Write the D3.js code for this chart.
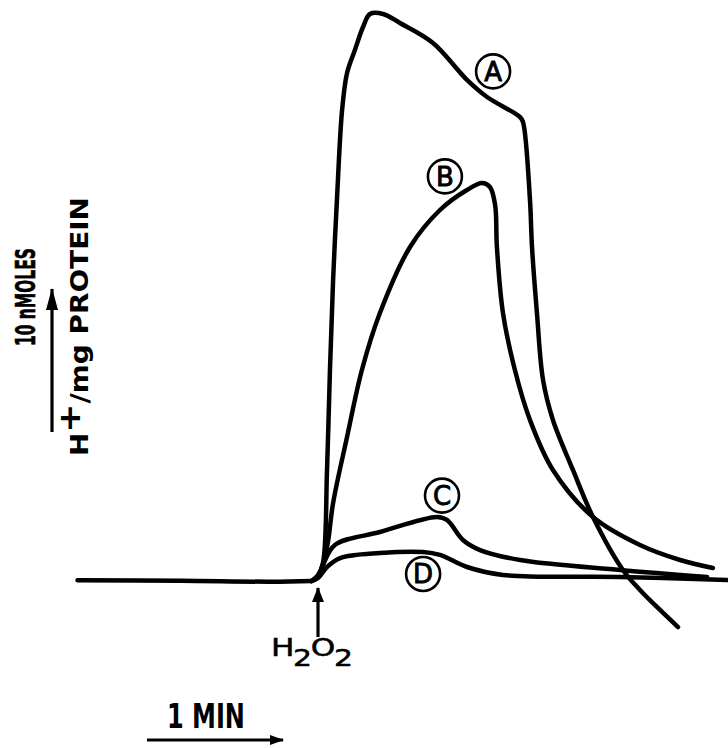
<html>
<head>
    <title>H+ extrusion after H2O2</title>
    <script src="https://d3js.org/d3.v7.min.js"></script>
    <style>
        body { margin: 0; background: #fff; }
    </style>
</head>
<body>
<script>
    // time in s after H2O2 addition, signal in nmoles H+/mg protein
    var baseT = [-106, -60, -20, -2];
    var baseV = [0.05, 0.02, -0.05, 0];

    var tA = [-2, 0.9, 3.1, 4.9, 6.2, 7.6, 9.3, 11.6, 13.8, 17.3, 20.9, 24.0, 29.8, 37.3, 52.0, 67.1, 76.0, 90.7, 92.0,
              95.1, 96.0, 98.2, 100.9, 105.3, 114.2, 123.1, 136.4, 144.0, 152.9, 160.9];
    var vA = [0, 0.43, 1.29, 7.93, 15.07, 21.5, 27.21, 33.64, 36.29, 37.93, 39.57, 40.5, 40.5, 39.86, 38.43, 35.79, 34.57, 33.14, 32.79,
              27.21, 23.86, 19.14, 14.36, 11.5, 7.93, 4.57, 0.79, -0.64, -2.07, -3.29];

    var tB = [-2, 0.9, 4.9, 7.6, 13.8, 20.4, 28.4, 41.8, 55.1, 67.1, 73.8, 77.3, 79.6, 80.4, 83.1, 88.4, 95.1, 105.3, 123.1, 144.0, 161.8, 176.4];
    var vB = [0, 0.29, 2.43, 5.57, 10.29, 15.07, 19.14, 23.86, 26.5, 27.93, 28.43, 28.14, 26.86, 23.86, 19.14, 15.07, 11.5, 7.93, 4.57, 2.57, 1.5, 0.93];

    var tC = [-2, 0.9, 3.1, 8.4, 28.4, 53.8, 58.2, 65.3, 72.9, 90.7, 135.1, 173.8];
    var vC = [0, 0.29, 1.14, 2.57, 3.5, 4.57, 4.36, 2.93, 2.21, 1.5, 0.79, 0.29];

    var tD = [-2, 0.9, 4.9, 10.7, 28.4, 47.6, 55.1, 67.1, 83.1, 135.1, 182.7];
    var vD = [0, 0.21, 1.0, 1.64, 2.0, 2.07, 1.86, 1.0, 0.43, 0.29, 0.07];

    var labels = ["A", "B", "C", "D"];
    var labelT = [78.7, 57.3, 56.0, 47.6];
    var labelV = [36.4, 28.9, 6.1, 0.5];

    var width = 728, height = 748;
    var svg = d3.select("body").append("svg").attr("width", width).attr("height", height);

    // 1 min = 135 px, 10 nmoles = 140 px
    var x = d3.scaleLinear().domain([0, 60]).range([316, 451]);
    var y = d3.scaleLinear().domain([0, 10]).range([581, 441]);

    var line = d3.line()
        .x(d => x(d[0]))
        .y(d => y(d[1]))
        .curve(d3.curveCatmullRom.alpha(0.5));

    var series = [
        d3.zip(baseT, baseV),
        d3.zip(tA, vA),
        d3.zip(tB, vB),
        d3.zip(tC, vC),
        d3.zip(tD, vD)
    ];

    svg.append("g").selectAll("path").data(series).enter().append("path")
        .attr("d", line)
        .attr("fill", "none")
        .attr("stroke", "black")
        .attr("stroke-width", 4.5)
        .attr("stroke-linecap", "round")
        .attr("stroke-linejoin", "round");

    // circled curve labels
    var lab = svg.append("g").selectAll("g").data(labels).enter().append("g")
        .attr("transform", (d, i) => "translate(" + x(labelT[i]) + "," + y(labelV[i]) + ")");
    lab.append("circle")
        .attr("r", 17)
        .attr("fill", "white")
        .attr("stroke", "black")
        .attr("stroke-width", 2.6);
    lab.append("text")
        .text(d => d)
        .attr("text-anchor", "middle")
        .attr("dy", "0.36em")
        .attr("font-family", "DejaVu Sans")
        .attr("font-size", "26px")
        .attr("stroke", "black")
        .attr("stroke-width", 0.9);

    // arrowheads (length x width)
    var defs = svg.append("defs");
    function head(id, len, wid) {
        defs.append("marker").attr("id", id)
            .attr("viewBox", "0 0 " + len + " " + wid).attr("refX", len - 1).attr("refY", wid / 2)
            .attr("markerWidth", len).attr("markerHeight", wid).attr("markerUnits", "userSpaceOnUse")
            .attr("orient", "auto")
            .append("path").attr("d", "M0,0 L" + len + "," + wid / 2 + " L0," + wid + " Z").attr("fill", "black");
    }
    head("hv", 22, 12);
    head("hh", 15, 12);
    head("hm", 14, 10);

    // stretch a text to a given length along its baseline
    function fit(sel, len) {
        var w = sel.node().getComputedTextLength();
        var t = sel.attr("transform") || "";
        sel.attr("transform", t + " scale(" + (len / w) + ",1)");
    }

    // H2O2 arrow
    svg.append("line")
        .attr("x1", 318).attr("y1", 637).attr("x2", 318).attr("y2", 588)
        .attr("stroke", "black").attr("stroke-width", 3.2).attr("marker-end", "url(#hh)");
    var h2o2 = svg.append("text")
        .attr("transform", "translate(271,656)")
        .attr("font-family", "DejaVu Sans")
        .attr("font-size", "24px")
        .attr("stroke", "black")
        .attr("stroke-width", 0.5);
    h2o2.append("tspan").text("H");
    h2o2.append("tspan").text("2").attr("dy", 10).attr("dx", -1).attr("font-size", "23px");
    h2o2.append("tspan").text("O").attr("dy", -10).attr("dx", -1);
    h2o2.append("tspan").text("2").attr("dy", 10).attr("dx", -1).attr("font-size", "23px");
    fit(h2o2, 86);

    // time bar
    var min = svg.append("text")
        .text("1 MIN")
        .attr("transform", "translate(167,728)")
        .attr("font-family", "DejaVu Sans")
        .attr("font-weight", "bold")
        .attr("font-size", "33px");
    fit(min, 78);
    svg.append("line")
        .attr("x1", 147).attr("y1", 740).attr("x2", 283).attr("y2", 740)
        .attr("stroke", "black").attr("stroke-width", 3.2).attr("marker-end", "url(#hm)");

    // vertical scale bar
    svg.append("line")
        .attr("x1", 52).attr("y1", 432).attr("x2", 52).attr("y2", 289)
        .attr("stroke", "black").attr("stroke-width", 3.2).attr("marker-end", "url(#hv)");
    var nm = svg.append("text")
        .text("10 nMOLES")
        .attr("transform", "translate(35,346) rotate(-90)")
        .attr("font-family", "DejaVu Sans")
        .attr("font-stretch", "condensed")
        .attr("font-weight", "bold")
        .attr("font-size", "26px")
        .attr("stroke", "black")
        .attr("stroke-width", 0.6);
    fit(nm, 98);
    var unit = svg.append("text")
        .attr("transform", "translate(88,456) rotate(-90)")
        .attr("font-family", "DejaVu Sans")
        .attr("font-weight", "bold")
        .attr("font-size", "24px");
    unit.append("tspan").text("H");
    unit.append("tspan").text("+").attr("dy", -8).attr("font-size", "30px");
    unit.append("tspan").text("/mg PROTEIN").attr("dy", 8);
    fit(unit, 259);
</script>
</body>
</html>
